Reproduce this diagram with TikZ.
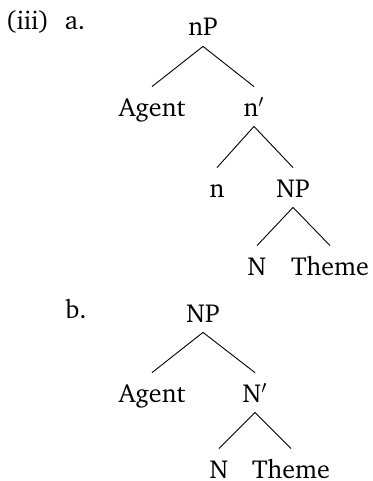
\documentclass[tikz,border=0pt]{standalone}
\usepackage[T1]{fontenc}
\usepackage{charter}
\usepackage{tikz}
\newcommand{\barlevel}{$'$}
\tikzset{
    cat/.style={anchor=base, inner xsep=0pt, inner ysep=5pt, text height=9.5pt, text depth=0pt},
    exno/.style={anchor=base},
    branch/.style={line width=0.45pt}
}

\begin{document}
\begin{tikzpicture}[x=0.5pt, y=-0.5pt, font=\fontsize{13}{15}\selectfont]
    \useasboundingbox (0,0) rectangle (372,481);

    % example numbers
    \node[exno] (ex) at (27.5,30) {(iii)};
    \node[exno] (exa) at (75,30) {a.};
    \node[exno] (exb) at (76,318) {b.};

    % tree a
    \node[cat] (nP) at (203,36) {nP};
    \node[cat] (agentA) at (152,116) {Agent};
    \node[cat] (nbar) at (254,116) {n\barlevel};
    \node[cat] (n) at (217,197) {n};
    \node[cat] (NPa) at (293,197) {NP};
    \node[cat] (Na) at (257,275) {N};
    \node[cat] (themeA) at (330,275) {Theme};

    \draw[branch] (nP.south) -- (agentA.north);
    \draw[branch] (nP.south) -- (nbar.north);
    \draw[branch] (nbar.south) -- (n.north);
    \draw[branch] (nbar.south) -- (NPa.north);
    \draw[branch] (NPa.south) -- (Na.north);
    \draw[branch] (NPa.south) -- (themeA.north);

    % tree b
    \node[cat] (NPb) at (203,322) {NP};
    \node[cat] (agentB) at (152,402) {Agent};
    \node[cat] (Nbar) at (255,402) {N\barlevel};
    \node[cat] (Nb) at (219,478) {N};
    \node[cat] (themeB) at (291,478) {Theme};

    \draw[branch] (NPb.south) -- (agentB.north);
    \draw[branch] (NPb.south) -- (Nbar.north);
    \draw[branch] (Nbar.south) -- (Nb.north);
    \draw[branch] (Nbar.south) -- (themeB.north);
\end{tikzpicture}
\end{document}
